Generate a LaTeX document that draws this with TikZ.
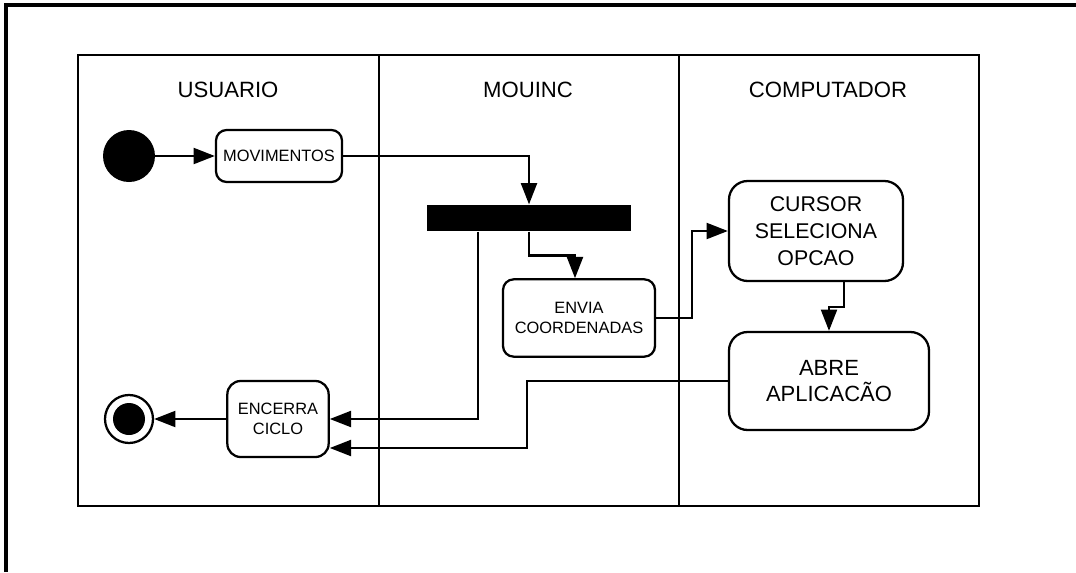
\documentclass[tikz,border=0pt]{standalone}
\usepackage{fontspec}
\setmainfont{Liberation Sans}
\usetikzlibrary{arrows.meta}
\begin{document}
\begin{tikzpicture}[x=0.75pt,y=-0.75pt]
        \tikzstyle{atividade}=[draw=black,line width=1.7pt,rounded corners=8pt,align=center,inner sep=2pt]
        \tikzstyle{raia}=[font=\fontsize{16.6}{20}\selectfont]
        \tikzstyle{fluxo}=[draw,line width=1.7pt,-{Triangle[length=16pt,width=12pt]}]
        \useasboundingbox (0,0) rectangle (1076,572);
        \draw[line width=2.4pt] (6,572) -- (6,5) -- (1076,5);
        % raias
        \draw[line width=1.6pt] (78,55) rectangle (979,506);
        \draw[line width=1.6pt] (379,55) -- (379,506);
        \draw[line width=1.6pt] (679,55) -- (679,506);
        \node [raia] (usuario) at (228,90) {USUARIO};
        \node [raia] (mouinc) at (528,90) {MOUINC};
        \node [raia] (computador) at (828,90) {COMPUTADOR};
        % estados
        \node [circle,fill=black,minimum size=39pt,inner sep=0pt] (ini) at (129,156) {};
        \node [circle,draw=black,line width=1.7pt,fill=white,minimum size=36pt,inner sep=0pt] (fim) at (129,419) {};
        \node [circle,fill=black,minimum size=24pt,inner sep=0pt] (fimc) at (129,419) {};
        \node [fill=black,minimum width=153pt,minimum height=20pt,inner sep=0pt] (barra) at (529,218) {};
        % atividades
        \node [atividade,minimum width=94.5pt,minimum height=39pt,font=\fontsize{12.3}{15}\selectfont] (mov) at (279,156) {MOVIMENTOS};
        \node [atividade,minimum width=114pt,minimum height=58pt,font=\fontsize{12.3}{15}\selectfont] (envia) at (579,318) {ENVIA\\COORDENADAS};
        \node [atividade,rounded corners=14pt,minimum width=130.5pt,minimum height=75pt,font=\fontsize{16}{20}\selectfont] (cursor) at (816,231) {CURSOR\\SELECIONA\\OPCAO};
        \node [atividade,rounded corners=14pt,minimum width=150pt,minimum height=73.5pt,font=\fontsize{16.5}{19}\selectfont] (abre) at (829,381) {ABRE\\APLICACÃO};
        \node [atividade,rounded corners=10pt,minimum width=76pt,minimum height=57pt,font=\fontsize{12.3}{15}\selectfont] (encerra) at (278,419) {ENCERRA\\CICLO};
        % fluxos
        \path[fluxo] (ini) -- (mov);
        \path[fluxo] (mov.east) -| (barra.north);
        \path[fluxo] (barra.south) -- ++(0,24) -| ([xshift=-3pt]envia.north);
        \path[fluxo] (envia.east) -- ++(36,0) |- (cursor.west);
        \path[fluxo] ([xshift=21pt]cursor.south) -- ++(0,25) -| (abre.north);
        \path[fluxo] ([xshift=-38.25pt]barra.south) |- (encerra.east);
        \path[fluxo] (abre.west) -- ++(-201,0) |- ([yshift=-21.75pt]encerra.east);
        \path[fluxo] (encerra.west) -- (fim);
\end{tikzpicture}
\end{document}
